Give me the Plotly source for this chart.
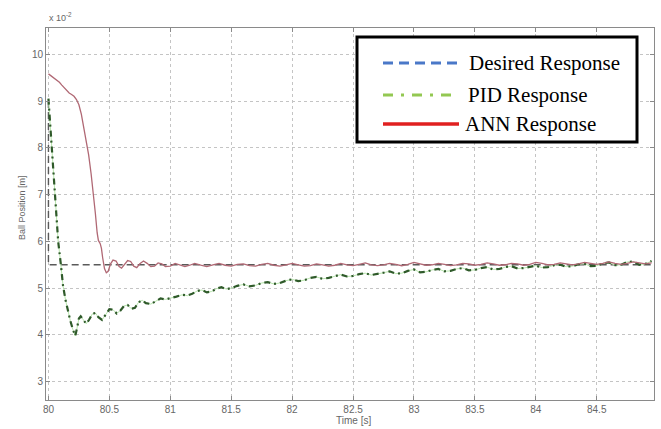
import plotly.graph_objects as go

# ---------------- data (ball position, units of 1e-2 m) ----------------
desired_t = [80.0, 80.0, 84.97]
desired_y = [9.0, 5.5, 5.5]

ann_t = [80.0, 80.03, 80.06, 80.09, 80.11, 80.13, 80.15, 80.17, 80.19, 80.21, 80.23, 80.25, 80.27, 80.29,
         80.31, 80.33, 80.35, 80.37, 80.385, 80.40, 80.41, 80.425, 80.435, 80.445, 80.46, 80.475, 80.49,
         80.51, 80.53, 80.555, 80.58, 80.60, 80.625, 80.65, 80.675, 80.70, 80.725, 80.75, 80.78, 80.81,
         80.84, 80.87, 80.90, 80.93, 80.96, 81.0, 81.04, 81.08, 81.12, 81.16, 81.20, 81.25, 81.30, 81.35,
         81.40, 81.45, 81.50, 81.55, 81.60, 81.65, 81.70, 81.75, 81.80, 81.85, 81.90, 81.95, 82.0, 82.05,
         82.10, 82.15, 82.20, 82.25, 82.30, 82.35, 82.40, 82.45, 82.50, 82.55, 82.60, 82.65, 82.70, 82.75,
         82.80, 82.85, 82.90, 82.95, 83.0, 83.05, 83.10, 83.15, 83.20, 83.25, 83.30, 83.35, 83.40, 83.45,
         83.50, 83.55, 83.60, 83.65, 83.70, 83.75, 83.80, 83.85, 83.90, 83.95, 84.0, 84.05, 84.10, 84.15,
         84.20, 84.25, 84.30, 84.35, 84.40, 84.45, 84.50, 84.55, 84.60, 84.65, 84.70, 84.75, 84.80, 84.85,
         84.90, 84.95]
ann_y = [9.58, 9.52, 9.46, 9.40, 9.34, 9.28, 9.22, 9.17, 9.14, 9.10, 9.03, 8.92, 8.72, 8.45,
         8.15, 7.85, 7.45, 7.00, 6.60, 6.18, 6.02, 5.95, 5.85, 5.65, 5.42, 5.33, 5.36,
         5.52, 5.60, 5.58, 5.46, 5.43, 5.50, 5.59, 5.57, 5.47, 5.44, 5.52, 5.58, 5.53,
         5.46, 5.47, 5.54, 5.52, 5.46, 5.47, 5.53, 5.50, 5.46, 5.49, 5.53, 5.49, 5.46, 5.50,
         5.53, 5.49, 5.47, 5.51, 5.52, 5.48, 5.47, 5.51, 5.53, 5.49, 5.47, 5.50, 5.53, 5.50,
         5.47, 5.48, 5.52, 5.50, 5.47, 5.49, 5.53, 5.50, 5.48, 5.51, 5.54, 5.50, 5.48, 5.50,
         5.53, 5.51, 5.48, 5.51, 5.55, 5.52, 5.49, 5.50, 5.53, 5.51, 5.48, 5.50, 5.53, 5.52,
         5.49, 5.51, 5.54, 5.52, 5.49, 5.50, 5.53, 5.52, 5.49, 5.51, 5.55, 5.53, 5.50, 5.51,
         5.54, 5.52, 5.50, 5.52, 5.55, 5.53, 5.51, 5.53, 5.56, 5.53, 5.51, 5.53, 5.56, 5.54,
         5.52, 5.54]

pid_t = [80.00, 80.02, 80.04, 80.06, 80.08, 80.10, 80.12, 80.14, 80.16, 80.18, 80.20, 80.22, 80.235,
         80.25, 80.265, 80.29, 80.31, 80.335, 80.36, 80.385, 80.41, 80.44, 80.47, 80.50, 80.53, 80.56,
         80.59, 80.62, 80.65, 80.68, 80.71, 80.74, 80.77, 80.80, 80.84, 80.88, 80.92, 80.96, 81.00,
         81.05, 81.10, 81.14, 81.18, 81.22, 81.26, 81.30, 81.34, 81.38, 81.42, 81.46, 81.50, 81.55,
         81.60, 81.65, 81.70, 81.75, 81.80, 81.85, 81.90, 81.95, 82.00, 82.05, 82.10, 82.15, 82.20,
         82.25, 82.30, 82.35, 82.40, 82.45, 82.50, 82.55, 82.60, 82.65, 82.70, 82.75, 82.80, 82.85,
         82.90, 82.95, 83.00, 83.05, 83.10, 83.15, 83.20, 83.25, 83.30, 83.35, 83.40, 83.45, 83.50,
         83.55, 83.60, 83.65, 83.70, 83.75, 83.80, 83.85, 83.90, 83.95, 84.00, 84.05, 84.10, 84.15,
         84.20, 84.25, 84.30, 84.35, 84.40, 84.45, 84.50, 84.55, 84.60, 84.65, 84.70, 84.75, 84.80,
         84.85, 84.90, 84.95]
pid_y = [9.05, 8.30, 7.50, 6.80, 6.00, 5.55, 5.05, 4.75, 4.50, 4.30, 4.12, 3.98, 4.15,
         4.35, 4.40, 4.30, 4.24, 4.33, 4.45, 4.47, 4.38, 4.32, 4.45, 4.55, 4.54, 4.46,
         4.52, 4.62, 4.64, 4.56, 4.58, 4.70, 4.74, 4.68, 4.66, 4.72, 4.78, 4.76, 4.78,
         4.82, 4.86, 4.84, 4.88, 4.94, 4.96, 4.91, 4.93, 4.99, 5.02, 4.98, 5.00, 5.05,
         5.08, 5.04, 5.06, 5.11, 5.13, 5.09, 5.11, 5.16, 5.19, 5.15, 5.17, 5.22, 5.24,
         5.20, 5.22, 5.26, 5.29, 5.25, 5.26, 5.30, 5.32, 5.28, 5.30, 5.33, 5.36, 5.31,
         5.32, 5.37, 5.40, 5.34, 5.35, 5.39, 5.41, 5.36, 5.37, 5.41, 5.43, 5.38, 5.39,
         5.43, 5.45, 5.40, 5.41, 5.45, 5.47, 5.42, 5.43, 5.46, 5.48, 5.44, 5.45, 5.49,
         5.50, 5.46, 5.47, 5.51, 5.52, 5.47, 5.48, 5.53, 5.55, 5.49, 5.50, 5.56, 5.57,
         5.50, 5.52, 5.58]

x_ticks = [80, 80.5, 81, 81.5, 82, 82.5, 83, 83.5, 84, 84.5]
x_tick_labels = ["80", "80.5", "81", "81.5", "82", "82.5", "83", "83.5", "84", "84.5"]
y_ticks = [3, 4, 5, 6, 7, 8, 9, 10]
legend_names = ["Desired Response", "PID Response", "ANN Response"]

# ---------------- figure ----------------
W, H = 661, 429
L, R, T, B = 46, 654, 28, 400


def px(x):
    return (x - L) / (R - L)


def py(y):
    return (B - y) / (B - T)


fig = go.Figure()
fig.add_trace(go.Scatter(x=desired_t, y=desired_y, mode="lines",
                         line=dict(color="#5a5a5a", width=1.4, dash="7px,4px"),
                         showlegend=False, hoverinfo="skip"))
fig.add_trace(go.Scatter(x=pid_t, y=pid_y, mode="lines",
                         line=dict(color="#b8e6ad", width=1),
                         showlegend=False, hoverinfo="skip"))
fig.add_trace(go.Scatter(x=pid_t, y=pid_y, mode="lines",
                         line=dict(color="#2f5a2a", width=2.2, dash="6px,4px,2px,4px"),
                         showlegend=False))
fig.add_trace(go.Scatter(x=ann_t, y=ann_y, mode="lines",
                         line=dict(color="#b06874", width=1.3),
                         showlegend=False))

axis_common = dict(showline=True, mirror="ticks", linecolor="#8a8a8a", linewidth=1,
                   ticks="inside", ticklen=4, tickcolor="#8a8a8a",
                   showgrid=True, gridcolor="#c4c4c4", griddash="dot", gridwidth=1,
                   zeroline=False,
                   tickfont=dict(family="Liberation Sans, Arial", size=10, color="#666"))

fig.update_xaxes(range=[79.98, 84.97], tickvals=x_ticks, ticktext=x_tick_labels, **axis_common)
fig.update_yaxes(range=[2.61, 10.56], tickvals=y_ticks, ticktext=[str(v) for v in y_ticks], **axis_common)

shapes = []
annotations = []
# legend box
shapes.append(dict(type="rect", xref="paper", yref="paper",
                   x0=px(357), x1=px(637), y0=py(142), y1=py(37),
                   line=dict(color="black", width=3), fillcolor="white", layer="above"))
legend_styles = [
    (63, dict(color="#4a78c8", width=3, dash="10px,6px")),
    (95, dict(color="#93c852", width=3, dash="10px,8px,3px,8px")),
    (124, dict(color="#e02020", width=3.5)),
]
text_x = [467, 466, 463]
for (yy, ln), name, tx in zip(legend_styles, legend_names, text_x):
    shapes.append(dict(type="line", xref="paper", yref="paper",
                       x0=px(383), x1=px(459), y0=py(yy), y1=py(yy), line=ln, layer="above"))
    annotations.append(dict(xref="paper", yref="paper", x=px(tx), y=py(yy), text=name,
                            showarrow=False, xanchor="left", yanchor="middle",
                            font=dict(family="Liberation Serif, Times New Roman", size=21, color="black")))

annotations.append(dict(xref="paper", yref="paper", x=px(47), y=py(17), text="x 10<sup>-2</sup>",
                        showarrow=False, xanchor="left", yanchor="middle",
                        font=dict(family="Liberation Sans, Arial", size=9, color="#666")))
annotations.append(dict(xref="paper", yref="paper", x=px(22), y=py(208), text="Ball Position [m]",
                        showarrow=False, textangle=-90, xanchor="center", yanchor="middle",
                        font=dict(family="Liberation Sans, Arial", size=9, color="#666")))
annotations.append(dict(xref="paper", yref="paper", x=px(353), y=py(420), text="Time [s]",
                        showarrow=False, xanchor="center", yanchor="middle",
                        font=dict(family="Liberation Sans, Arial", size=10, color="#666")))

fig.update_layout(width=W, height=H,
                  margin=dict(l=L, r=W - R, t=T, b=H - B, pad=0),
                  paper_bgcolor="white", plot_bgcolor="white",
                  shapes=shapes, annotations=annotations, showlegend=False)

fig.write_html("out.html")
